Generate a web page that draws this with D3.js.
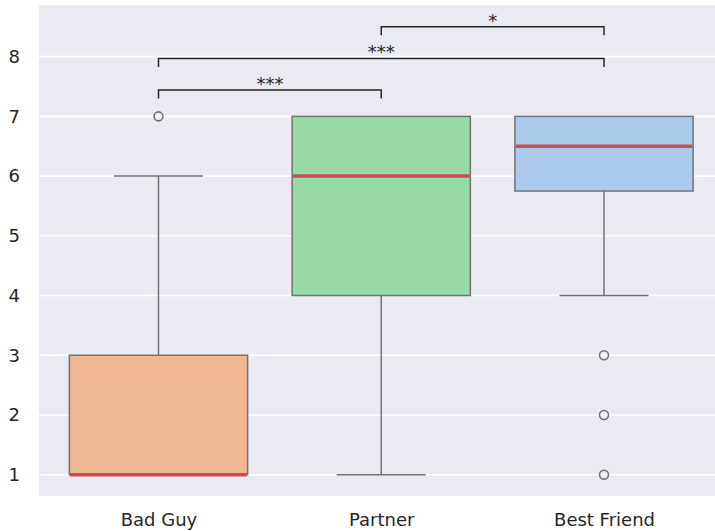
<!DOCTYPE html>
<html>
<head>
<meta charset="utf-8">
<script src="https://cdn.jsdelivr.net/npm/d3@7"></script>
<style>
  body { margin: 0; background: #fff; }
  text { font-family: "DejaVu Sans", sans-serif; fill: #262626; }
</style>
</head>
<body>
<svg class="chart"></svg>
<script>
// box stats per category
var categories = ['Bad Guy', 'Partner', 'Best Friend'];
var q1 = [1, 4, 5.75];
var medians = [1, 6, 6.5];
var q3 = [3, 7, 7];
var whiskerLow = [1, 1, 4];
var whiskerHigh = [6, 7, 7];
var outliers = [[7], [], [3, 2, 1]];
var boxColors = ['#efb792', '#98daa7', '#abc9ea'];
var yTicks = [1, 2, 3, 4, 5, 6, 7, 8];

// significance brackets
var pairA = [0, 0, 1];
var pairB = [1, 2, 2];
var pairLevel = [7.44, 7.97, 8.5];
var pairLabel = ['***', '***', '*'];

var width = 715, height = 531;
var margin = {left: 39, right: 0, top: 5.3, bottom: 35};
var plotW = width - margin.left - margin.right;
var plotH = height - margin.top - margin.bottom;

var svg = d3.select('.chart').attr('width', width).attr('height', height);
var panel = svg.append('g').attr('transform', 'translate(' + [margin.left, margin.top] + ')');

var x = d3.scaleLinear().domain([0, 2]).range([158.5 - margin.left, 604 - margin.left]);
var step = x(1) - x(0);
var boxW = step * 0.8;
var y = d3.scaleLinear().domain([0.643, 8.86]).range([plotH, 0]);

panel.append('rect')
    .attr('width', plotW).attr('height', plotH)
    .attr('fill', '#eaeaf2');

// gridlines
panel.selectAll('.grid').data(yTicks).enter().append('line')
    .attr('class', 'grid')
    .attr('x1', 0).attr('x2', plotW)
    .attr('y1', function(d){ return y(d); })
    .attr('y2', function(d){ return y(d); })
    .attr('stroke', '#fff').attr('stroke-width', 1.6);

// axes
var axisY = panel.append('g')
    .call(d3.axisLeft(y).tickValues(yTicks).tickSize(0).tickPadding(19).tickFormat(d3.format('d')));
axisY.select('.domain').remove();
axisY.selectAll('text').attr('font-size', 18).attr('font-family', '"DejaVu Sans", sans-serif').attr('fill', '#262626');

var axisX = panel.append('g')
    .attr('transform', 'translate(0,' + plotH + ')')
    .call(d3.axisBottom(x).tickValues([0, 1, 2]).tickSize(0).tickPadding(17)
        .tickFormat(function(d){ return categories[d]; }));
axisX.select('.domain').remove();
axisX.selectAll('text').attr('font-size', 18).attr('font-family', '"DejaVu Sans", sans-serif').attr('fill', '#262626');

// boxes
var lineColor = '#737373';
var boxes = panel.selectAll('.box').data(categories).enter().append('g').attr('class', 'box');

boxes.append('line')
    .attr('x1', function(d, i){ return x(i); }).attr('x2', function(d, i){ return x(i); })
    .attr('y1', function(d, i){ return y(q3[i]); }).attr('y2', function(d, i){ return y(whiskerHigh[i]); })
    .attr('stroke', lineColor).attr('stroke-width', 1.5);
boxes.append('line')
    .attr('x1', function(d, i){ return x(i); }).attr('x2', function(d, i){ return x(i); })
    .attr('y1', function(d, i){ return y(q1[i]); }).attr('y2', function(d, i){ return y(whiskerLow[i]); })
    .attr('stroke', lineColor).attr('stroke-width', 1.5);

// caps (skip when whisker is zero length)
boxes.each(function(d, i){
    var g = d3.select(this);
    [[whiskerHigh[i], q3[i]], [whiskerLow[i], q1[i]]].forEach(function(w){
        if (w[0] === w[1]) return;
        g.append('line')
            .attr('x1', x(i) - boxW / 4).attr('x2', x(i) + boxW / 4)
            .attr('y1', y(w[0])).attr('y2', y(w[0]))
            .attr('stroke', lineColor).attr('stroke-width', 1.5);
    });
});

boxes.append('rect')
    .attr('x', function(d, i){ return x(i) - boxW / 2; })
    .attr('y', function(d, i){ return y(q3[i]); })
    .attr('width', boxW)
    .attr('height', function(d, i){ return y(q1[i]) - y(q3[i]); })
    .attr('fill', function(d, i){ return boxColors[i]; })
    .attr('stroke', lineColor).attr('stroke-width', 1.5);

boxes.append('line')
    .attr('x1', function(d, i){ return x(i) - boxW / 2 + 0.75; })
    .attr('x2', function(d, i){ return x(i) + boxW / 2 - 0.75; })
    .attr('y1', function(d, i){ return y(medians[i]); })
    .attr('y2', function(d, i){ return y(medians[i]); })
    .attr('stroke', '#c94f50').attr('stroke-width', 3.5);

boxes.selectAll('.flier')
    .data(function(d, i){ return outliers[i].map(function(v){ return {i: i, v: v}; }); })
    .enter().append('circle').attr('class', 'flier')
    .attr('cx', function(d){ return x(d.i); })
    .attr('cy', function(d){ return y(d.v); })
    .attr('r', 4.5)
    .attr('fill', 'none').attr('stroke', lineColor).attr('stroke-width', 1.6);

// brackets
var tickLen = 8.5;
var brackets = panel.selectAll('.bracket').data(pairLabel).enter().append('g').attr('class', 'bracket');
brackets.append('path')
    .attr('d', function(d, i){
        var ly = y(pairLevel[i]);
        return 'M' + x(pairA[i]) + ',' + (ly + tickLen) + 'V' + ly + 'H' + x(pairB[i]) + 'V' + (ly + tickLen);
    })
    .attr('fill', 'none').attr('stroke', '#262626').attr('stroke-width', 1.5);
brackets.append('text')
    .attr('x', function(d, i){ return (x(pairA[i]) + x(pairB[i])) / 2; })
    .attr('y', function(d, i){ return y(pairLevel[i]); })
    .attr('text-anchor', 'middle')
    .attr('font-size', 18)
    .text(function(d){ return d; });
</script>
</body>
</html>
